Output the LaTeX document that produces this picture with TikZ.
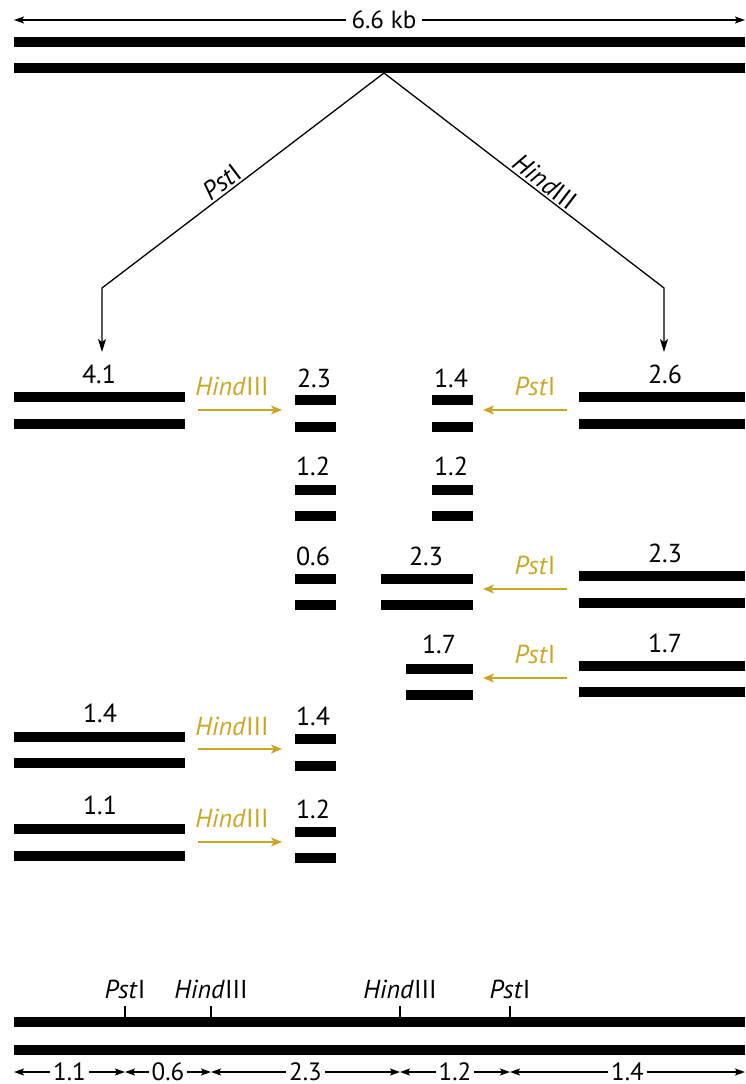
\documentclass[tikz,border=0pt]{standalone}
\usepackage{fontspec}
\setmainfont{PT Sans}
\usetikzlibrary{arrows.meta}
\definecolor{enzgold}{RGB}{201,166,36}
\tikzset{
  dnab/.style={rectangle,fill=black,draw=none,inner sep=0pt,outer sep=0pt,minimum height=10pt,anchor=north west},
  lbl/.style={anchor=base,inner sep=0pt,font=\fontsize{26}{30}\selectfont},
  glbl/.style={lbl,text=enzgold},
  goldarr/.style={line width=1.4pt,enzgold,-{Stealth[length=11pt,width=9pt,inset=3pt]}},
  blkarr/.style={line width=1.3pt,-{Stealth[length=13pt,width=8pt,inset=3pt]}},
  dimarr/.style={line width=1.2pt,{Stealth[length=10pt,width=7pt,inset=2pt]}-{Stealth[length=10pt,width=7pt,inset=2pt]}},
  dimlbl/.style={fill=white,inner xsep=3pt,inner ysep=0pt,font=\fontsize{25}{29}\selectfont},
}
\newcommand\dnabar[4]{\node[dnab,minimum width={#3-#2}] (#1) at (#2,#4) {};}
\begin{document}
\begin{tikzpicture}[x=1pt,y=-1pt]
\useasboundingbox (0,0) rectangle (745,1084);
% top double strand
\dnabar{T1}{14}{745}{37}
\dnabar{T2}{14}{745}{63}
\coordinate (tl) at (14,20);
\coordinate (tr) at (745,20);
\draw[dimarr] (tl) -- node[dimlbl,pos=0.506,inner xsep=6pt]{6.6 kb} (tr);
% tree
\coordinate (apex) at (384,73);
\coordinate (bendL) at (102,288);
\coordinate (tipL) at (102,352);
\coordinate (bendR) at (664,288);
\coordinate (tipR) at (664,352);
\draw[blkarr,line join=miter] (apex) -- node[sloped,above,pos=0.55,inner sep=2pt,font=\fontsize{26}{30}\selectfont]{\textit{Pst}I} (bendL) -- (tipL);
\draw[blkarr,line join=miter] (apex) -- node[sloped,above,pos=0.55,inner sep=2pt,font=\fontsize{26}{30}\selectfont]{\textit{Hind}III} (bendR) -- (tipR);
% row 1
\dnabar{L41a}{14}{185}{392}
\dnabar{L41b}{14}{185}{419}
\node[lbl] (n41) at (99,383) {4.1};
\dnabar{S23a}{295}{336}{395}
\dnabar{S23b}{295}{336}{422}
\node[lbl] (n23s) at (314,387) {2.3};
\dnabar{R14a}{432}{473}{395}
\dnabar{R14b}{432}{473}{422}
\node[lbl] (n14r) at (451,387) {1.4};
\dnabar{R26a}{579}{745}{392}
\dnabar{R26b}{579}{745}{419}
\node[lbl] (n26) at (665,383) {2.6};
\coordinate (g1s) at (198,410); \coordinate (g1e) at (282,410);
\draw[goldarr] (g1s) -- (g1e);
\node[glbl] (h1) at (232,395) {\textit{Hind}III};
\coordinate (p1s) at (567,410); \coordinate (p1e) at (483,410);
\draw[goldarr] (p1s) -- (p1e);
\node[glbl] (pl1) at (535,395) {\textit{Pst}I};
% row 2
\dnabar{S12a}{295}{336}{485}
\dnabar{S12b}{295}{336}{511}
\node[lbl] (n12s) at (313,475) {1.2};
\dnabar{R12a}{432}{473}{485}
\dnabar{R12b}{432}{473}{511}
\node[lbl] (n12r) at (451,475) {1.2};
% row 3
\dnabar{S06a}{295}{336}{574}
\dnabar{S06b}{295}{336}{600}
\node[lbl] (n06) at (313,565) {0.6};
\dnabar{M23a}{381}{473}{574}
\dnabar{M23b}{381}{473}{600}
\node[lbl] (n23m) at (426,565) {2.3};
\dnabar{R23a}{579}{745}{571}
\dnabar{R23b}{579}{745}{598}
\node[lbl] (n23r) at (665,562) {2.3};
\coordinate (p3s) at (567,589); \coordinate (p3e) at (483,589);
\draw[goldarr] (p3s) -- (p3e);
\node[glbl] (pl3) at (535,574) {\textit{Pst}I};
% row 4
\dnabar{M17a}{406}{473}{664}
\dnabar{M17b}{406}{473}{690}
\node[lbl] (n17m) at (439,653) {1.7};
\dnabar{R17a}{579}{745}{661}
\dnabar{R17b}{579}{745}{687}
\node[lbl] (n17r) at (665,652) {1.7};
\coordinate (p4s) at (567,678); \coordinate (p4e) at (483,678);
\draw[goldarr] (p4s) -- (p4e);
\node[glbl] (pl4) at (535,663) {\textit{Pst}I};
% row 5
\dnabar{L14a}{14}{185}{732}
\dnabar{L14b}{14}{185}{758}
\node[lbl] (n14l) at (100,722) {1.4};
\dnabar{S14a}{295}{336}{734}
\dnabar{S14b}{295}{336}{761}
\node[lbl] (n14s) at (313,725) {1.4};
\coordinate (g5s) at (198,749); \coordinate (g5e) at (282,749);
\draw[goldarr] (g5s) -- (g5e);
\node[glbl] (h5) at (232,735) {\textit{Hind}III};
% row 6
\dnabar{L11a}{14}{185}{824}
\dnabar{L11b}{14}{185}{851}
\node[lbl] (n11) at (100,814) {1.1};
\dnabar{S12ca}{295}{336}{827}
\dnabar{S12cb}{295}{336}{853}
\node[lbl] (n12c) at (313,818) {1.2};
\coordinate (g6s) at (198,842); \coordinate (g6e) at (282,842);
\draw[goldarr] (g6s) -- (g6e);
\node[glbl] (h6) at (232,827) {\textit{Hind}III};
% bottom map
\dnabar{B1}{14}{745}{1017}
\dnabar{B2}{14}{745}{1045}
\foreach \nm/\xx/\tx in {k1/125/{\textit{Pst}I},k2/211/{\textit{Hind}III},k3/400/{\textit{Hind}III},k4/510/{\textit{Pst}I}}{
  \coordinate (\nm t) at (\xx,1006);
  \coordinate (\nm b) at (\xx,1017);
  \draw[line width=1.1pt] (\nm t) -- (\nm b);
  \node[lbl] (\nm l) at (\xx,998) {\tx};
}
\coordinate (d0) at (14,1072);
\coordinate (d1) at (125,1072);
\coordinate (d2) at (211,1072);
\coordinate (d3) at (400,1072);
\coordinate (d4) at (510,1072);
\coordinate (d5) at (745,1072);
\draw[dimarr] (d0) -- node[dimlbl]{1.1} (d1);
\draw[dimarr] (d1) -- node[dimlbl]{0.6} (d2);
\draw[dimarr] (d2) -- node[dimlbl]{2.3} (d3);
\draw[dimarr] (d3) -- node[dimlbl]{1.2} (d4);
\draw[dimarr] (d4) -- node[dimlbl]{1.4} (d5);
\end{tikzpicture}
\end{document}
